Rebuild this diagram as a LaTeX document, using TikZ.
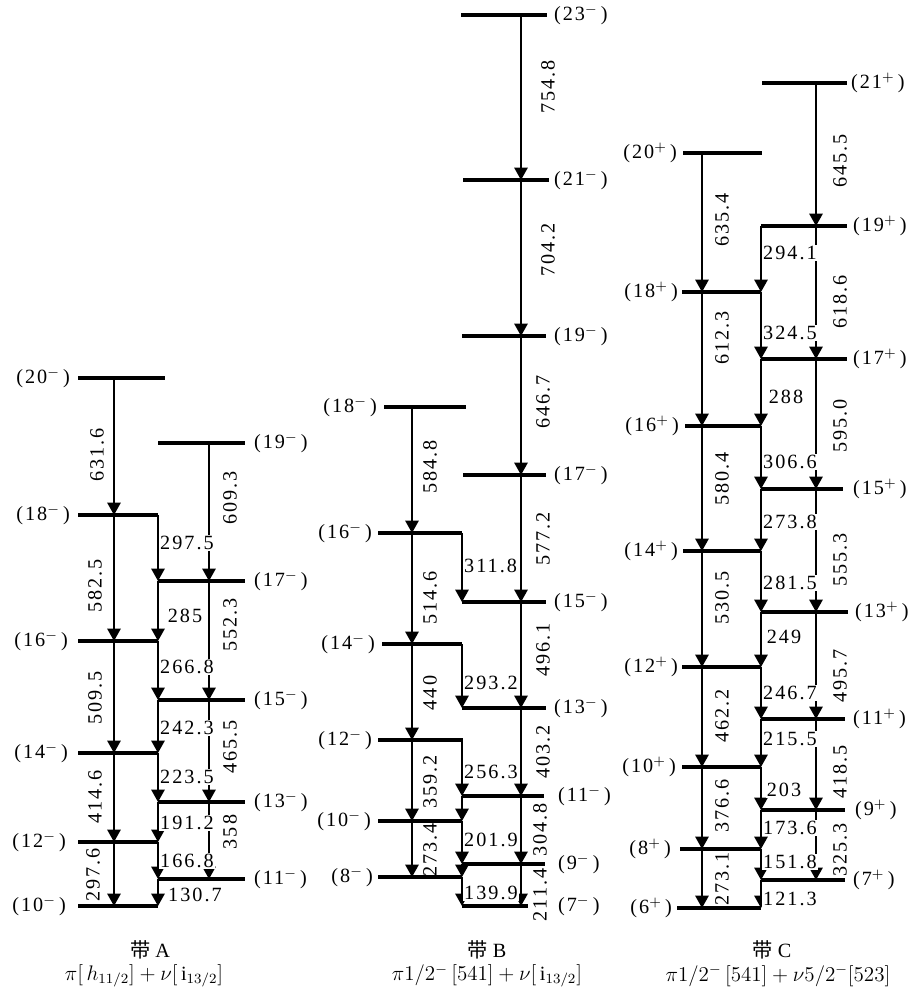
\documentclass[tikz,border=0pt]{standalone}
\usepackage{fontspec}
\usepackage{amsmath}
\usepackage{tikz}
\usetikzlibrary{arrows.meta}
\setmainfont{Liberation Serif}
\newfontfamily\lvfont{Liberation Serif}[LetterSpace=10]
\newfontfamily\cjk{Noto Sans CJK SC}

\begin{document}
\begin{tikzpicture}[x=0.02cm,y=-0.02cm,>=Latex,
    lvl/.style={line width=1.9pt},
    tr/.style={line width=1.2pt,-{Triangle[length=7pt,width=7.5pt]}},
    spinl/.style={anchor=east,inner sep=1pt,font=\fontsize{11.5}{13}\lvfont},
    spinr/.style={anchor=west,inner sep=1pt,font=\fontsize{11.5}{13}\lvfont},
    e2/.style={rotate=90,inner sep=0.5pt,font=\fontsize{11.5}{13}\lvfont},
    m1/.style={anchor=west,fill=white,inner sep=0.5pt,font=\fontsize{11.5}{13}\lvfont},
    bandcap/.style={inner sep=1pt,font=\fontsize{11.5}{13}\selectfont}]
    \useasboundingbox (0,0) rectangle (910,992);

    % Columns
    \coordinate (xA1) at (114,0);
    \coordinate (xA2) at (158,0);
    \coordinate (xA3) at (209,0);
    \coordinate (xB1) at (412,0);
    \coordinate (xB2) at (462,0);
    \coordinate (xB3) at (521,0);
    \coordinate (xC1) at (702,0);
    \coordinate (xC2) at (761,0);
    \coordinate (xC3) at (816,0);

    % Band A levels
    \draw[lvl] (78,378) -- (165,378);
    \node[spinl] (A20) at (72,378) {(20$^{-}$\,)};
    \draw[lvl] (158,443) -- (245,443);
    \node[spinr] (A19) at (252,443) {(19$^{-}$\,)};
    \draw[lvl] (78,515) -- (158,515);
    \node[spinl] (A18) at (72,515) {(18$^{-}$\,)};
    \draw[lvl] (158,581) -- (245,581);
    \node[spinr] (A17) at (252,581) {(17$^{-}$\,)};
    \draw[lvl] (78,641) -- (158,641);
    \node[spinl] (A16) at (70,641) {(16$^{-}$\,)};
    \draw[lvl] (158,700) -- (245,700);
    \node[spinr] (A15) at (252,700) {(15$^{-}$\,)};
    \draw[lvl] (78,753) -- (158,753);
    \node[spinl] (A14) at (70,753) {(14$^{-}$\,)};
    \draw[lvl] (158,802) -- (245,802);
    \node[spinr] (A13) at (252,802) {(13$^{-}$\,)};
    \draw[lvl] (78,842) -- (158,842);
    \node[spinl] (A12) at (68,842) {(12$^{-}$\,)};
    \draw[lvl] (158,879) -- (245,879);
    \node[spinr] (A11) at (252,879) {(11$^{-}$\,)};
    \draw[lvl] (78,906) -- (158,906);
    \node[spinl] (A10) at (68,906) {(10$^{-}$\,)};

    % Band A transitions
    \draw[tr] (xA1 |- A20) -- (xA1 |- A18);
    \draw[tr] (xA1 |- A18) -- (xA1 |- A16);
    \draw[tr] (xA1 |- A16) -- (xA1 |- A14);
    \draw[tr] (xA1 |- A14) -- (xA1 |- A12);
    \draw[tr] (xA1 |- A12) -- (xA1 |- A10);
    \draw[tr] (xA3 |- A19) -- (xA3 |- A17);
    \draw[tr] (xA3 |- A17) -- (xA3 |- A15);
    \draw[tr] (xA3 |- A15) -- (xA3 |- A13);
    \draw[tr] (xA3 |- A13) -- (xA3 |- A11);
    \draw[tr] (xA2 |- A18) -- (xA2 |- A17);
    \draw[tr] (xA2 |- A17) -- (xA2 |- A16);
    \draw[tr] (xA2 |- A16) -- (xA2 |- A15);
    \draw[tr] (xA2 |- A15) -- (xA2 |- A14);
    \draw[tr] (xA2 |- A14) -- (xA2 |- A13);
    \draw[tr] (xA2 |- A13) -- (xA2 |- A12);
    \draw[tr] (xA2 |- A12) -- (xA2 |- A11);
    \draw[tr] (xA2 |- A11) -- (xA2 |- A10);
    \node[e2] (gA1) at (97,455) {631.6};
    \node[e2] (gA2) at (95,586) {582.5};
    \node[e2] (gA3) at (95,698) {509.5};
    \node[e2] (gA4) at (95,797) {414.6};
    \node[e2] (gA5) at (93,875) {297.6};
    \node[e2] (gA6) at (230,498) {609.3};
    \node[e2] (gA7) at (230,625) {552.3};
    \node[e2] (gA8) at (230,747) {465.5};
    \node[e2] (gA9) at (230,832) {358};
    \node[m1] (mA1) at (159,543) {297.5};
    \node[m1,anchor=center] (mA2) at (185,616) {285};
    \node[m1] (mA3) at (159,667) {266.8};
    \node[m1] (mA4) at (159,728) {242.3};
    \node[m1] (mA5) at (159,777) {223.5};
    \node[m1] (mA6) at (159,823) {191.2};
    \node[m1] (mA7) at (159,861) {166.8};
    \node[m1] (mA8) at (167,895) {130.7};

    % Band B levels
    \draw[lvl] (461,15) -- (547,15);
    \node[spinr] (B23) at (552,15) {(23$^{-}$\,)};
    \draw[lvl] (463,180) -- (549,180);
    \node[spinr] (B21) at (552,180) {(21$^{-}$\,)};
    \draw[lvl] (462,336) -- (546,336);
    \node[spinr] (B19) at (552,336) {(19$^{-}$\,)};
    \draw[lvl] (384,407) -- (466,407);
    \node[spinl] (B18) at (379,407) {(18$^{-}$\,)};
    \draw[lvl] (463,475) -- (546,475);
    \node[spinr] (B17) at (552,475) {(17$^{-}$\,)};
    \draw[lvl] (378,533) -- (462,533);
    \node[spinl] (B16) at (374,533) {(16$^{-}$\,)};
    \draw[lvl] (462,602) -- (546,602);
    \node[spinr] (B15) at (552,602) {(15$^{-}$\,)};
    \draw[lvl] (382,644) -- (462,644);
    \node[spinl] (B14) at (377,644) {(14$^{-}$\,)};
    \draw[lvl] (462,708) -- (546,708);
    \node[spinr] (B13) at (552,708) {(13$^{-}$\,)};
    \draw[lvl] (378,740) -- (463,740);
    \node[spinl] (B12) at (374,740) {(12$^{-}$\,)};
    \draw[lvl] (462,796) -- (544,796);
    \node[spinr] (B11) at (556,796) {(11$^{-}$\,)};
    \draw[lvl] (378,821) -- (462,821);
    \node[spinl] (B10) at (373,821) {(10$^{-}$\,)};
    \draw[lvl,line width=2.4pt] (462,864) -- (545,864);
    \node[spinr] (B9) at (556,864) {(9$^{-}$\,)};
    \draw[lvl] (378,877) -- (462,877);
    \node[spinl] (B8) at (375,877) {(8$^{-}$\,)};
    \draw[lvl] (462,906) -- (528,906);
    \node[spinr] (B7) at (556,906) {(7$^{-}$\,)};

    % Band B transitions
    \draw[tr] (xB3 |- B23) -- (xB3 |- B21);
    \draw[tr] (xB3 |- B21) -- (xB3 |- B19);
    \draw[tr] (xB3 |- B19) -- (xB3 |- B17);
    \draw[tr] (xB3 |- B17) -- (xB3 |- B15);
    \draw[tr] (xB3 |- B15) -- (xB3 |- B13);
    \draw[tr] (xB3 |- B13) -- (xB3 |- B11);
    \draw[tr] (xB3 |- B11) -- (xB3 |- B9);
    \draw[tr] (xB3 |- B9) -- (xB3 |- B7);
    \draw[tr] (xB1 |- B18) -- (xB1 |- B16);
    \draw[tr] (xB1 |- B16) -- (xB1 |- B14);
    \draw[tr] (xB1 |- B14) -- (xB1 |- B12);
    \draw[tr] (xB1 |- B12) -- (xB1 |- B10);
    \draw[tr] (xB1 |- B10) -- (xB1 |- B8);
    \draw[tr] (xB2 |- B16) -- (xB2 |- B15);
    \draw[tr] (xB2 |- B14) -- (xB2 |- B13);
    \draw[tr] (xB2 |- B12) -- (xB2 |- B11);
    \draw[tr] (xB2 |- B11) -- (xB2 |- B10);
    \draw[tr] (xB2 |- B10) -- (xB2 |- B9);
    \draw[tr] (xB2 |- B9) -- (xB2 |- B8);
    \draw[tr] (xB2 |- B8) -- (xB2 |- B7);
    \node[e2] (gB1) at (548,87) {754.8};
    \node[e2] (gB2) at (548,250) {704.2};
    \node[e2] (gB3) at (543,402) {646.7};
    \node[e2] (gB4) at (543,539) {577.2};
    \node[e2] (gB5) at (543,650) {496.1};
    \node[e2] (gB6) at (543,752) {403.2};
    \node[e2] (gB7) at (540,830) {304.8};
    \node[e2] (gB8) at (540,895) {211.4};
    \node[e2] (gB9) at (430,467) {584.8};
    \node[e2] (gB10) at (430,598) {514.6};
    \node[e2] (gB11) at (430,693) {440};
    \node[e2] (gB12) at (430,782) {359.2};
    \node[e2] (gB13) at (430,850) {273.4};
    \node[m1] (mB1) at (463,566) {311.8};
    \node[m1] (mB2) at (463,683) {293.2};
    \node[m1] (mB3) at (463,772) {256.3};
    \node[m1] (mB4) at (463,840) {201.9};
    \node[m1] (mB5) at (463,893) {139.9};

    % Band C levels
    \draw[lvl] (762,83) -- (847,83);
    \node[spinr] (C21) at (849,83) {(21$^{+}$\,)};
    \draw[lvl] (683,153) -- (762,153);
    \node[spinl] (C20) at (679,153) {(20$^{+}$\,)};
    \draw[lvl] (761,226) -- (847,226);
    \node[spinr] (C19) at (851,226) {(19$^{+}$\,)};
    \draw[lvl] (682,292) -- (761,292);
    \node[spinl] (C18) at (680,292) {(18$^{+}$\,)};
    \draw[lvl] (761,359) -- (847,359);
    \node[spinr] (C17) at (851,359) {(17$^{+}$\,)};
    \draw[lvl] (685,426) -- (761,426);
    \node[spinl] (C16) at (681,426) {(16$^{+}$\,)};
    \draw[lvl] (761,489) -- (843,489);
    \node[spinr] (C15) at (851,489) {(15$^{+}$\,)};
    \draw[lvl] (683,551) -- (761,551);
    \node[spinl] (C14) at (680,551) {(14$^{+}$\,)};
    \draw[lvl] (761,612) -- (848,612);
    \node[spinr] (C13) at (853,612) {(13$^{+}$\,)};
    \draw[lvl] (682,667) -- (761,667);
    \node[spinl] (C12) at (680,667) {(12$^{+}$\,)};
    \draw[lvl] (761,719) -- (845,719);
    \node[spinr] (C11) at (851,719) {(11$^{+}$\,)};
    \draw[lvl] (682,767) -- (761,767);
    \node[spinl] (C10) at (678,767) {(10$^{+}$\,)};
    \draw[lvl] (761,810) -- (845,810);
    \node[spinr] (C9) at (853,810) {(9$^{+}$\,)};
    \draw[lvl] (680,849) -- (761,849);
    \node[spinl] (C8) at (673,849) {(8$^{+}$\,)};
    \draw[lvl] (761,880) -- (845,880);
    \node[spinr] (C7) at (851,880) {(7$^{+}$\,)};
    \draw[lvl] (677,908) -- (761,908);
    \node[spinl] (C6) at (674,908) {(6$^{+}$\,)};

    % Band C transitions
    \draw[tr] (xC1 |- C20) -- (xC1 |- C18);
    \draw[tr] (xC1 |- C18) -- (xC1 |- C16);
    \draw[tr] (xC1 |- C16) -- (xC1 |- C14);
    \draw[tr] (xC1 |- C14) -- (xC1 |- C12);
    \draw[tr] (xC1 |- C12) -- (xC1 |- C10);
    \draw[tr] (xC1 |- C10) -- (xC1 |- C8);
    \draw[tr] (xC1 |- C8) -- (xC1 |- C6);
    \draw[tr] (xC3 |- C21) -- (xC3 |- C19);
    \draw[tr] (xC3 |- C19) -- (xC3 |- C17);
    \draw[tr] (xC3 |- C17) -- (xC3 |- C15);
    \draw[tr] (xC3 |- C15) -- (xC3 |- C13);
    \draw[tr] (xC3 |- C13) -- (xC3 |- C11);
    \draw[tr] (xC3 |- C11) -- (xC3 |- C9);
    \draw[tr] (xC3 |- C9) -- (xC3 |- C7);
    \draw[tr] (xC2 |- C19) -- (xC2 |- C18);
    \draw[tr] (xC2 |- C18) -- (xC2 |- C17);
    \draw[tr] (xC2 |- C17) -- (xC2 |- C16);
    \draw[tr] (xC2 |- C16) -- (xC2 |- C15);
    \draw[tr] (xC2 |- C15) -- (xC2 |- C14);
    \draw[tr] (xC2 |- C14) -- (xC2 |- C13);
    \draw[tr] (xC2 |- C13) -- (xC2 |- C12);
    \draw[tr] (xC2 |- C12) -- (xC2 |- C11);
    \draw[tr] (xC2 |- C11) -- (xC2 |- C10);
    \draw[tr] (xC2 |- C10) -- (xC2 |- C9);
    \draw[tr] (xC2 |- C9) -- (xC2 |- C8);
    \draw[tr] (xC2 |- C8) -- (xC2 |- C7);
    \draw[tr] (xC2 |- C7) -- (xC2 |- C6);
    \node[e2] (gC1) at (722,220) {635.4};
    \node[e2] (gC2) at (722,338) {612.3};
    \node[e2] (gC3) at (722,479) {580.4};
    \node[e2] (gC4) at (722,598) {530.5};
    \node[e2] (gC5) at (722,716) {462.2};
    \node[e2] (gC6) at (722,806) {376.6};
    \node[e2] (gC7) at (722,879) {273.1};
    \node[e2] (gC8) at (840,161) {645.5};
    \node[e2] (gC9) at (840,302) {618.6};
    \node[e2] (gC10) at (840,426) {595.0};
    \node[e2] (gC11) at (840,560) {555.3};
    \node[e2] (gC12) at (840,676) {495.7};
    \node[e2] (gC13) at (840,772) {418.5};
    \node[e2] (gC14) at (840,850) {325.3};
    \node[m1] (mC1) at (762,253) {294.1};
    \node[m1] (mC2) at (762,333) {324.5};
    \node[m1,anchor=center] (mC3) at (786,397) {288};
    \node[m1] (mC4) at (762,462) {306.6};
    \node[m1] (mC5) at (762,522) {273.8};
    \node[m1] (mC6) at (762,583) {281.5};
    \node[m1,anchor=center] (mC7) at (784,637) {249};
    \node[m1] (mC8) at (762,693) {246.7};
    \node[m1] (mC9) at (762,739) {215.5};
    \node[m1,anchor=center] (mC10) at (784,790) {203};
    \node[m1] (mC11) at (762,828) {173.6};
    \node[m1] (mC12) at (762,862) {151.8};
    \node[m1,anchor=center] (mC13) at (790,899) {121.3};

    % Captions
    \node[bandcap] (capA) at (150,950) {{\cjk 带} A};
    \node[bandcap] (frmA) at (144,976) {$\pi[\,h_{11/2}]+\nu[\,\mathrm{i}_{13/2}]$};
    \node[bandcap] (capB) at (487,950) {{\cjk 带} B};
    \node[bandcap] (frmB) at (487,976) {$\pi1/2^{-}\,[541]+\nu[\,\mathrm{i}_{13/2}]$};
    \node[bandcap] (capC) at (772,950) {{\cjk 带} C};
    \node[bandcap] (frmC) at (778,976) {$\pi1/2^{-}\,[541]+\nu5/2^{-}[523]$};
\end{tikzpicture}
\end{document}
